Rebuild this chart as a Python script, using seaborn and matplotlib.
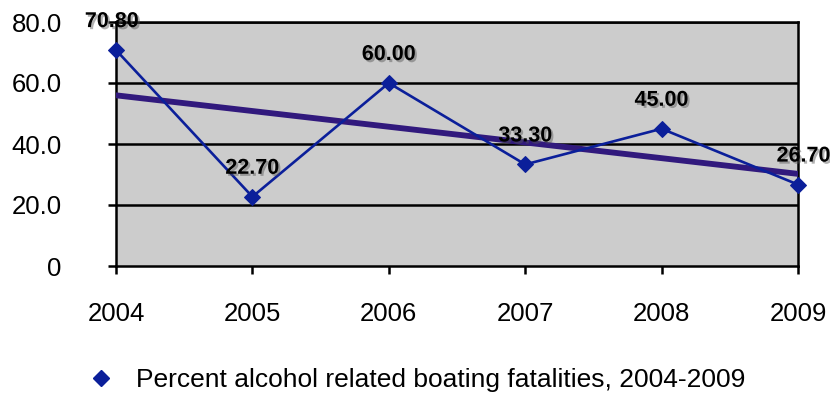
import numpy as np
import pandas as pd
import matplotlib
matplotlib.use("Agg")
import matplotlib.pyplot as plt
import matplotlib.patheffects as pe
from matplotlib.lines import Line2D
import seaborn as sns

years = [2004, 2005, 2006, 2007, 2008, 2009]
percent = [70.80, 22.70, 60.00, 33.30, 45.00, 26.70]
value_labels = ["70.80", "22.70", "60.00", "33.30", "45.00", "26.70"]
y_ticks = [0, 20, 40, 60, 80]
y_tick_labels = ["0", "20.0", "40.0", "60.0", "80.0"]
series_name = "Percent alcohol related boating fatalities, 2004-2009"

df = pd.DataFrame({"year": years, "pct": percent})

sns.set_theme(style="white")
plt.rcParams["font.family"] = ["Liberation Sans", "DejaVu Sans"]
plt.rcParams["text.color"] = "black"
plt.rcParams["xtick.color"] = "black"
plt.rcParams["ytick.color"] = "black"

fig = plt.figure(figsize=(8.3, 3.94), dpi=100)
ax = fig.add_axes([116 / 830, 1 - 266 / 394, (798 - 116) / 830, (266 - 22) / 394])
ax.set_facecolor("#CCCCCC")

line_color = "#0B1F9A"
trend_color = "#31197D"

# linear trend
sns.regplot(data=df, x="year", y="pct", scatter=False, ci=None, truncate=True,
            ax=ax, line_kws=dict(color=trend_color, lw=4.2, zorder=3))

sns.lineplot(data=df, x="year", y="pct", ax=ax, color=line_color, lw=1.9,
             marker="D", markersize=8, markeredgecolor=line_color,
             zorder=4, clip_on=False)

shadow = [pe.SimplePatchShadow(offset=(1.5, -1.5), shadow_rgbFace="#555555", alpha=0.45),
          pe.Normal()]
for x, y, s in zip(years, percent, value_labels):
    dx = 4 if x == years[-1] else (-3 if x == years[0] else 0)
    ax.annotate(s, (x, y), xytext=(dx, 20.5), textcoords="offset points",
                ha="center", va="center", fontsize=15.5, fontweight="bold",
                color="black", path_effects=shadow, zorder=6,
                annotation_clip=False)

ax.set_xlim(2004, 2009)
ax.set_ylim(0, 80)
ax.set_xticks(years)
ax.set_xticklabels([str(y) for y in years])
ax.set_yticks(y_ticks)
ax.set_yticklabels(y_tick_labels)
ax.set_xlabel("")
ax.set_ylabel("")

for yv in y_ticks[1:]:
    ax.axhline(yv, color="black", lw=1.8, zorder=1)

for sp in ax.spines.values():
    sp.set_visible(True)
    sp.set_color("black")
    sp.set_linewidth(1.8)

ax.tick_params(axis="x", direction="out", length=6, width=1.8, colors="black",
               labelsize=18.5, pad=20, bottom=True)
ax.tick_params(axis="y", direction="out", length=6, width=1.8, colors="black",
               labelsize=18.5, pad=33, left=True)
ax.grid(False)

handle = Line2D([], [], color=line_color, marker="D", markersize=8, linestyle="none")
fig.legend([handle], [series_name], loc="center", bbox_to_anchor=(0.494, 0.035),
           frameon=False, fontsize=19, handletextpad=0.3, borderaxespad=0,
           labelcolor="black")

fig.savefig("out.png", dpi=100)
